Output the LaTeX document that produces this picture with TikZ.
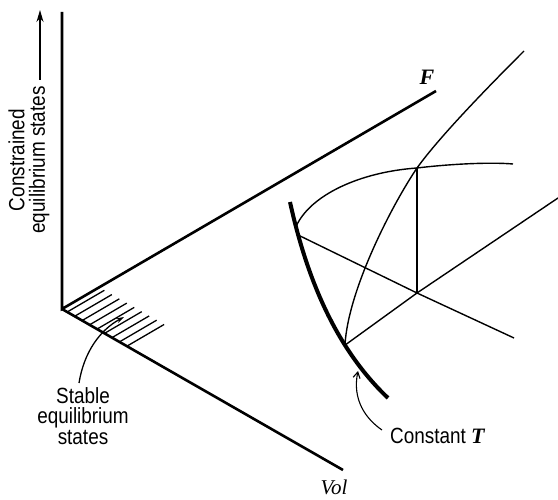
\documentclass[tikz,border=0pt]{standalone}
\usepackage{fontspec}
\setmainfont{Liberation Serif}
\newfontfamily\labfont[FakeStretch=0.86]{Liberation Sans}
\usetikzlibrary{arrows.meta,calc}
\begin{document}
\begin{tikzpicture}[x=1pt,y=-1pt,
  axisline/.style={line width=2.6pt},
  thinline/.style={line width=1.4pt},
  thickcurve/.style={line width=4pt},
  hatchline/.style={line width=1.3pt},
  pointer/.style={line width=1.3pt},
  lbl/.style={font=\labfont\fontsize{22}{20.5}\selectfont, inner sep=0pt},
  mathlbl/.style={font=\fontsize{22}{24}\selectfont\bfseries\itshape, inner sep=0pt}
]
\useasboundingbox (0,0) rectangle (558,500);

% axes
\coordinate (O) at (62,309);
\coordinate (Top) at (62,12);
\coordinate (Fend) at (436,91);
\coordinate (Vend) at (343,470);
\draw[axisline] (Top) -- (O) -- (Fend);
\draw[axisline] (O) -- (Vend);

\node[mathlbl] (F) at (427,77) {F};
\node[font=\fontsize{21}{23}\selectfont\itshape, inner sep=0pt, anchor=base] (Vol) at (334,494) {Vol};

% vertical label with arrow
\node[lbl, rotate=90, align=center] (clab) at (29,160) {Constrained\\equilibrium states};
\coordinate (carrS) at (40,80);
\coordinate (carrT) at (40,10);
\draw[pointer, line width=1.5pt, -{Stealth[length=12pt,width=7pt]}] (carrS) -- (carrT);

% hatching of stable states
\foreach \k in {0,...,8}{
  \pgfmathsetmacro{\dd}{6+8.6*\k}
  \draw[hatchline] ($(O)!\dd pt!(Vend)$) -- ++(37.2,-21.7);
}

% stable label and pointer
\node[lbl, align=center] (stab) at (83,416) {Stable\\equilibrium\\states};
\coordinate (sarrS) at (79,383);
\coordinate (sarrT) at (124,317);
\draw[pointer, -{Stealth[length=8pt,width=5pt]}] (sarrS) .. controls (84,352) and (100,330) .. (sarrT);

% right-hand construction
\coordinate (A) at (290,202);
\coordinate (Tend) at (388,398);
\path (A) .. controls (305,270) and (332,345) .. (Tend)
  coordinate[pos=0.12] (P0)
  coordinate[pos=0.16] (P1)
  coordinate[pos=0.7] (P2);
\coordinate (Q) at (417,168);
\coordinate (E1) at (514,338);
\coordinate (E2) at (558,198);
\coordinate (E3) at (513,164);
\coordinate (E4) at (524,51);
\coordinate (R) at (417,293);

\draw[thickcurve] (A) .. controls (305,270) and (332,345) .. (Tend);
\draw[thinline] (P0) .. controls (310,195) and (360,172) .. (Q) .. controls (450,164) and (490,162) .. (E3);
\draw[thinline] (P2) .. controls (348,290) and (392,205) .. (Q) .. controls (440,136) and (490,85) .. (E4);
\draw[thinline] (Q) -- (R);
\draw[thinline] (P1) -- (R) -- (E1);
\draw[thinline] (P2) -- (R) -- (E2);

% constant T label
\node[lbl, anchor=base west] (ct) at (390,443) {Constant \fontsize{22}{24}\selectfont\rmfamily\bfseries\itshape T};
\coordinate (tarrS) at (382,430);
\coordinate (tarrT) at (358,371);
\draw[pointer, line width=1.1pt, -{Straight Barb[length=6pt,width=7pt]}] (tarrS) .. controls (366,419) and (352,400) .. (tarrT);
\end{tikzpicture}
\end{document}
